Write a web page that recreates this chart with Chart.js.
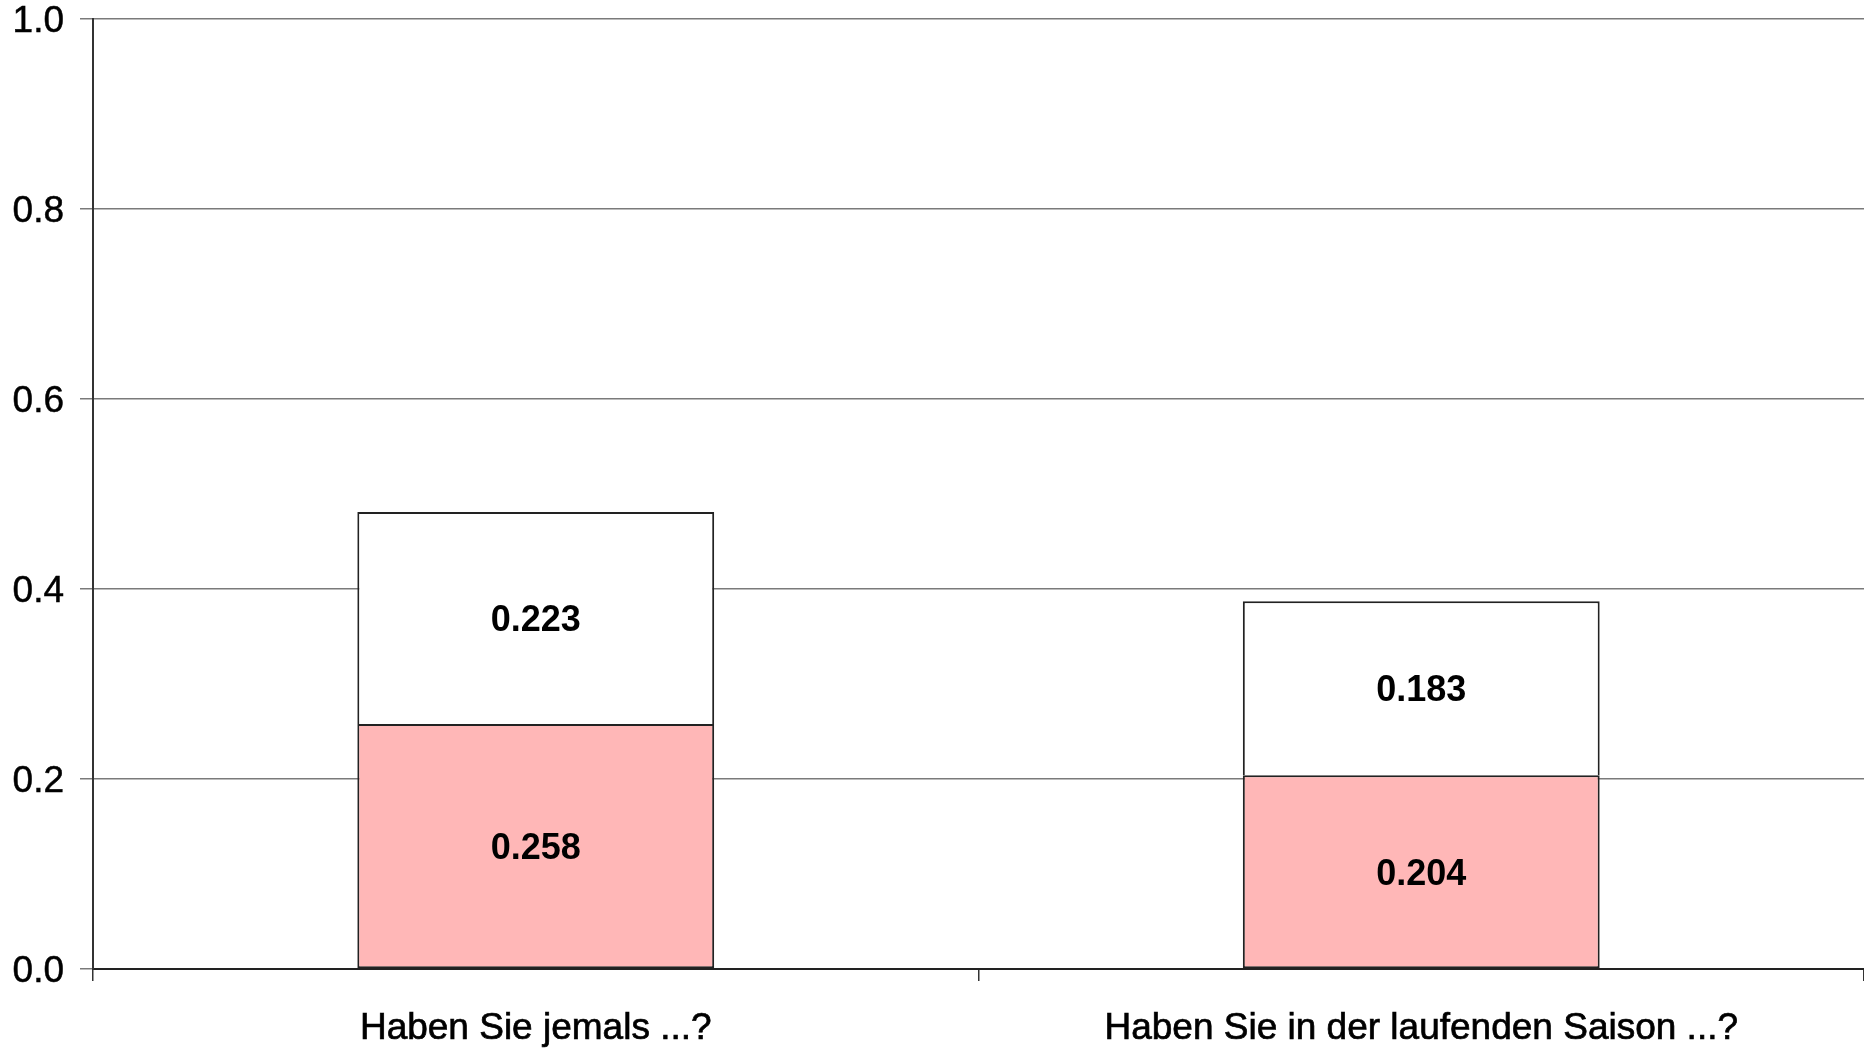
<!DOCTYPE html>
<html><head><meta charset="utf-8">
<script src="https://cdn.jsdelivr.net/npm/chart.js@4/dist/chart.umd.min.js"></script>
<style>html,body{margin:0;padding:0;background:#fff}#wrap{width:1864px;height:1049px}</style>
</head><body><div id="wrap"><canvas id="c" width="1864" height="1049"></canvas></div>
<script>
const categories = ["Haben Sie jemals ...?", "Haben Sie in der laufenden Saison ...?"];
const lowerValues = [0.258, 0.204];
const upperValues = [0.223, 0.183];
const yTicks = [0.0, 0.2, 0.4, 0.6, 0.8, 1.0];

const FONT = "'Liberation Sans', Arial, sans-serif";
const labelPlugin = {
  id: 'segLabels',
  afterDatasetsDraw(chart) {
    const ctx = chart.ctx;
    ctx.save();
    ctx.font = "bold 36px " + FONT;
    ctx.fillStyle = '#000';
    ctx.textAlign = 'center';
    ctx.textBaseline = 'middle';
    chart.data.datasets.forEach((ds, di) => {
      chart.getDatasetMeta(di).data.forEach((bar, i) => {
        const p = bar.getProps(['x', 'y', 'base'], true);
        ctx.fillText(ds.data[i].toFixed(3), p.x, (p.y + p.base) / 2 + 3);
      });
    });
    ctx.restore();
  }
};

new Chart(document.getElementById('c'), {
  type: 'bar',
  data: {
    labels: categories,
    datasets: [
      { data: lowerValues, backgroundColor: '#FFB7B7', borderColor: '#222', borderWidth: 2, borderSkipped: false,
        categoryPercentage: 1, barPercentage: 0.403 },
      { data: upperValues, backgroundColor: '#FFFFFF', borderColor: '#222', borderWidth: 2, borderSkipped: 'bottom',
        categoryPercentage: 1, barPercentage: 0.403 }
    ]
  },
  options: {
    responsive: false,
    animation: false,
    devicePixelRatio: 1,
    layout: { padding: { top: 19, right: 0, left: 0, bottom: 0 } },
    plugins: { legend: { display: false }, tooltip: { enabled: false } },
    scales: {
      x: {
        stacked: true,
        grid: { offset: true, drawOnChartArea: false, drawTicks: true, tickLength: 12, color: '#333', lineWidth: 1.5 },
        border: { color: '#222', width: 2 },
        ticks: { color: '#000', font: { family: FONT, size: 37 }, padding: 26, maxRotation: 0,
          textStrokeColor: '#000', textStrokeWidth: 0.7 },
        afterFit(s) { s.height = 80; s.paddingLeft = 0; s.paddingRight = 0; }
      },
      y: {
        stacked: true,
        min: 0, max: 1,
        afterBuildTicks(s) { s.ticks = yTicks.map(v => ({ value: v })); },
        grid: { color: '#7a7a7a', lineWidth: 1.5, tickLength: 13 },
        border: { color: '#333', width: 2 },
        ticks: { color: '#000', font: { family: FONT, size: 37 }, padding: 16, labelOffset: 3,
          textStrokeColor: '#000', textStrokeWidth: 0.5,
          callback: v => Number(v).toFixed(1) },
        afterFit(s) { s.width = 93; s.paddingTop = 0; s.paddingBottom = 0; }
      }
    }
  },
  plugins: [labelPlugin]
});
</script></body></html>
